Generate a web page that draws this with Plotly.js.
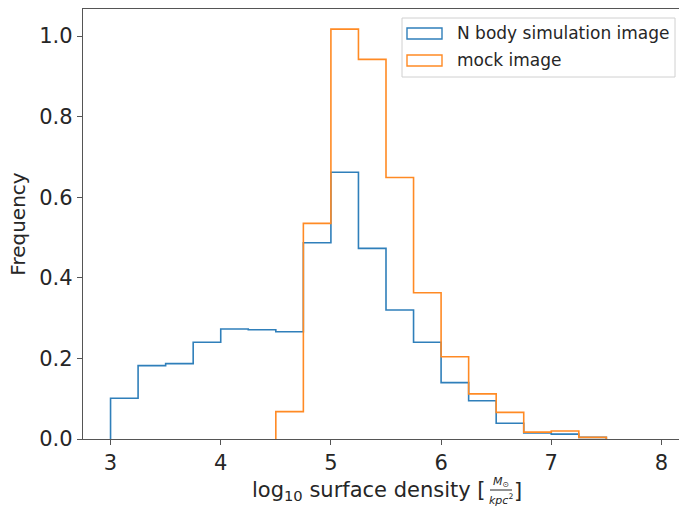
<!DOCTYPE html>
<html>
<head>
<meta charset="utf-8">
<script src="https://cdn.plot.ly/plotly-3.0.1.min.js"></script>
<style>
html, body { margin: 0; padding: 0; overflow: hidden; background: #fff; }
#chart { width: 690px; height: 511px; }
</style>
</head>
<body>
<div id="chart"></div>
<script>
// ---- data ----
const nbodyEdges = [3.0, 3.25, 3.5, 3.75, 4.0, 4.25, 4.5, 4.75, 5.0, 5.25, 5.5, 5.75, 6.0, 6.25, 6.5, 6.75, 7.0, 7.25, 7.5];
const nbodyFreq  = [0.101, 0.182, 0.187, 0.240, 0.273, 0.271, 0.266, 0.487, 0.662, 0.473, 0.320, 0.240, 0.140, 0.095, 0.039, 0.015, 0.012, 0.004];
const mockEdges  = [4.5, 4.75, 5.0, 5.25, 5.5, 5.75, 6.0, 6.25, 6.5, 6.75, 7.0, 7.25, 7.5];
const mockFreq   = [0.068, 0.535, 1.017, 0.942, 0.649, 0.363, 0.204, 0.112, 0.066, 0.017, 0.020, 0.004];
const seriesNames = ["N body simulation image", "mock image"];
const xTicks = [3, 4, 5, 6, 7, 8];
const yTicks = [0.0, 0.2, 0.4, 0.6, 0.8, 1.0];

// ---- step outline (matplotlib histtype='step') ----
function stepXY(edges, vals) {
  const x = [edges[0]], y = [0];
  for (let i = 0; i < vals.length; i++) { x.push(edges[i]); y.push(vals[i]); }
  x.push(edges[edges.length - 1]); y.push(vals[vals.length - 1]);
  x.push(edges[edges.length - 1]); y.push(0);
  return {x, y};
}
const BLUE = '#2f7fba', ORANGE = '#ff8a24';
const s1 = stepXY(nbodyEdges, nbodyFreq);
const s2 = stepXY(mockEdges, mockFreq);

const traces = [
  {type: 'scatter', mode: 'lines', x: s1.x, y: s1.y, name: seriesNames[0],
   line: {color: BLUE, width: 1.6, shape: 'hv'}, showlegend: false, hoverinfo: 'skip'},
  {type: 'scatter', mode: 'lines', x: s2.x, y: s2.y, name: seriesNames[1],
   line: {color: ORANGE, width: 1.6, shape: 'hv'}, showlegend: false, hoverinfo: 'skip'}
];

// ---- geometry helpers (pixel -> paper) ----
const L = 83, R = 689, T = 9, B = 439, W = 690, H = 511;
const px = v => (v - L) / (R - L);
const py = v => (B - v) / (B - T);

const FONT = 'DejaVu Sans, Verdana, sans-serif';
const TXT = '#262626';
const FS = 21;

const shapes = [
  // legend frame
  {type: 'rect', xref: 'paper', yref: 'paper', x0: px(402), x1: px(675), y0: py(18), y1: py(77),
   line: {color: '#d0d0d0', width: 1}, fillcolor: 'rgba(255,255,255,0.8)', layer: 'above'},
  // legend swatches
  {type: 'rect', xref: 'paper', yref: 'paper', x0: px(407), x1: px(442), y0: py(28), y1: py(39),
   line: {color: BLUE, width: 1.4}, fillcolor: 'rgba(0,0,0,0)', layer: 'above'},
  {type: 'rect', xref: 'paper', yref: 'paper', x0: px(407), x1: px(442), y0: py(55), y1: py(66),
   line: {color: ORANGE, width: 1.4}, fillcolor: 'rgba(0,0,0,0)', layer: 'above'},
  // fraction bar in the x label
  {type: 'line', xref: 'paper', yref: 'paper', x0: px(490), x1: px(512), y0: py(490), y1: py(490),
   line: {color: TXT, width: 1}}
];

const annotations = [
  {xref: 'paper', yref: 'paper', x: px(455), y: py(33), text: seriesNames[0], showarrow: false,
   xanchor: 'left', yanchor: 'middle', font: {family: FONT, size: 17, color: TXT}},
  {xref: 'paper', yref: 'paper', x: px(455), y: py(60), text: seriesNames[1], showarrow: false,
   xanchor: 'left', yanchor: 'middle', font: {family: FONT, size: 17, color: TXT}},
  // x axis label
  {xref: 'paper', yref: 'paper', x: px(488), y: py(491), text: 'log<sub>10</sub> surface density [',
   showarrow: false, xanchor: 'right', yanchor: 'middle', font: {family: FONT, size: FS, color: TXT}},
  {xref: 'paper', yref: 'paper', x: px(501), y: py(482), text: '<i>M</i><sub>⊙</sub>',
   showarrow: false, xanchor: 'center', yanchor: 'middle', font: {family: FONT, size: 11, color: TXT}},
  {xref: 'paper', yref: 'paper', x: px(501), y: py(499), text: '<i>kpc</i><sup>2</sup>',
   showarrow: false, xanchor: 'center', yanchor: 'middle', font: {family: FONT, size: 11, color: TXT}},
  {xref: 'paper', yref: 'paper', x: px(512), y: py(491), text: ']',
   showarrow: false, xanchor: 'left', yanchor: 'middle', font: {family: FONT, size: FS, color: TXT}}
];

const layout = {
  width: W, height: H,
  margin: {l: L, r: W - R, t: T, b: H - B, pad: 0},
  paper_bgcolor: '#fff', plot_bgcolor: '#fff',
  font: {family: FONT, size: FS, color: TXT},
  showlegend: false,
  xaxis: {
    range: [2.75, 8.25], tickvals: xTicks, ticktext: xTicks.map(String),
    showgrid: false, zeroline: false, showline: true, mirror: true,
    linecolor: '#555', linewidth: 1.2, ticks: 'outside', ticklen: 5, tickcolor: '#555',
    tickfont: {family: FONT, size: FS, color: TXT}
  },
  yaxis: {
    range: [0, 1.067], tickvals: yTicks, ticktext: yTicks.map(v => v.toFixed(1)),
    showgrid: false, zeroline: false, showline: true, mirror: true,
    linecolor: '#555', linewidth: 1.2, ticks: 'outside', ticklen: 5, tickcolor: '#555',
    tickfont: {family: FONT, size: FS, color: TXT},
    title: {text: 'Frequency', font: {family: FONT, size: FS - 1, color: TXT}, standoff: 8}
  },
  shapes: shapes,
  annotations: annotations
};

Plotly.newPlot('chart', traces, layout, {staticPlot: true, displayModeBar: false});
</script>
</body>
</html>
